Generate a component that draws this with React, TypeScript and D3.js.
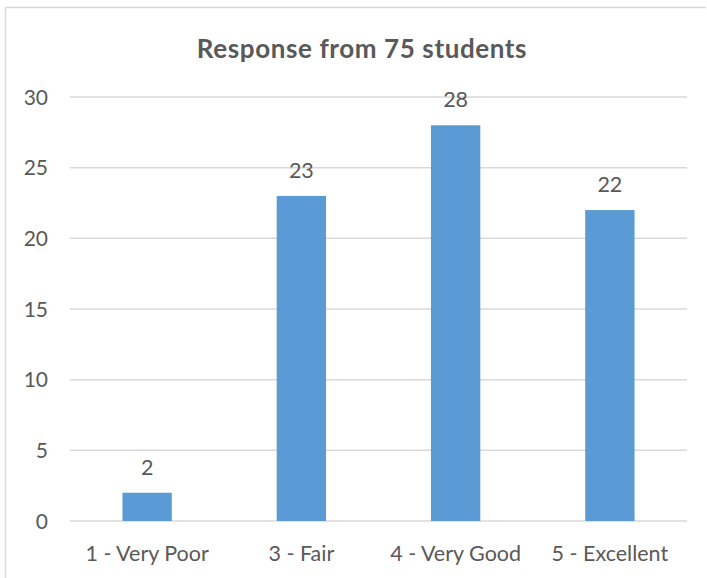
import React from "react";
import * as d3 from "d3";

const categories = ["1 - Very Poor", "3 - Fair", "4 - Very Good", "5 - Excellent"];
const values = [2, 23, 28, 22];
const yTicks = [0, 5, 10, 15, 20, 25, 30];
const title = "Response from 75 students";

const W = 707;
const H = 578;
const FONT = "Lato, 'Open Sans', sans-serif";
const TEXT = "#595959";

export default function App() {
  const x = d3
    .scaleBand<string>()
    .domain(categories)
    .range([70, 687])
    .paddingInner(0.68)
    .paddingOuter(0.34);
  const y = d3.scaleLinear().domain([0, 30]).range([521, 97]);

  return (
    <svg
      width={W}
      height={H}
      style={{ position: "absolute", left: 0, top: 0, background: "#fff" }}
    >
      <rect x={0} y={0} width={W} height={H} fill="#fff" />
      <line x1={5.5} y1={7.5} x2={706} y2={7.5} stroke="#D9D9D9" strokeWidth={1.5} />
      <line x1={5.5} y1={7.5} x2={5.5} y2={H} stroke="#D9D9D9" strokeWidth={1.5} />
      <text
        x={362}
        y={58}
        textAnchor="middle"
        fontFamily={FONT}
        fontWeight="bold"
        fontSize={26}
        letterSpacing={0.6}
        fill={TEXT}
      >
        {title}
      </text>
      {yTicks.map((t) => (
        <g key={t}>
          <line x1={70} x2={687} y1={y(t)} y2={y(t)} stroke="#D9D9D9" strokeWidth={1.5} />
          <text
            x={48}
            y={y(t)}
            dy="0.36em"
            textAnchor="end"
            fontFamily={FONT}
            fontSize={21}
            fill={TEXT}
          >
            {t}
          </text>
        </g>
      ))}
      {categories.map((c, i) => (
        <g key={c}>
          <rect
            x={x(c)}
            y={y(values[i])}
            width={x.bandwidth()}
            height={y(0) - y(values[i])}
            fill="#5B9BD5"
          />
          <text
            x={(x(c) as number) + x.bandwidth() / 2}
            y={y(values[i]) - 18}
            textAnchor="middle"
            fontFamily={FONT}
            fontSize={21.5}
            fill={TEXT}
          >
            {values[i]}
          </text>
          <text
            x={(x(c) as number) + x.bandwidth() / 2}
            y={561}
            textAnchor="middle"
            fontFamily={FONT}
            fontSize={21.5}
            fill={TEXT}
          >
            {c}
          </text>
        </g>
      ))}
    </svg>
  );
}
